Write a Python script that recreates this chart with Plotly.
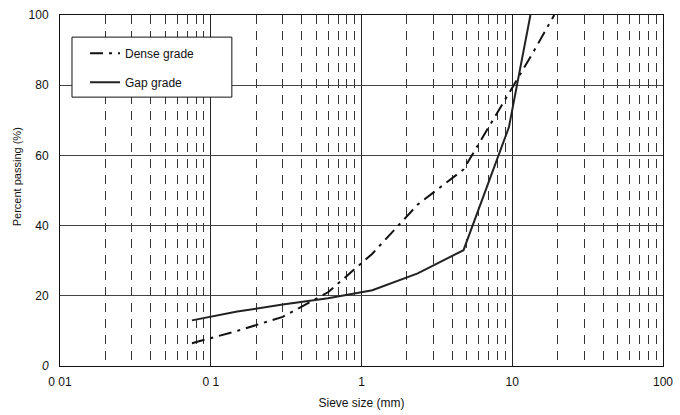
import plotly.graph_objects as go

sieve_mm = [0.075, 0.15, 0.3, 0.6, 1.18, 2.36, 4.75, 9.5, 13.2, 19]
dense_grade = [6.5, 10, 14, 21, 32, 46, 56, 77.5, 88, 100]
gap_sieve_mm = [0.075, 0.15, 0.3, 0.6, 1.18, 2.36, 4.75, 9.5, 13.2]
gap_grade = [13, 15.5, 17.5, 19.3, 21.6, 26.4, 33, 68, 100]

x_tickvals = [0.01, 0.1, 1, 10, 100]
x_ticktext = ["0 01", "0 1", "1", "10", "100"]
y_tickvals = [0, 20, 40, 60, 80, 100]
y_ticktext = ["<i>0</i>", "20", "40", "60", "80", "100"]

FONT = "Liberation Sans, Arial, sans-serif"

fig = go.Figure()
fig.add_trace(go.Scatter(x=sieve_mm, y=dense_grade, mode="lines", name="Dense grade",
                         legendgroup="a",
                         line=dict(color="#111", width=2, dash="13px,6px,3px,6px")))
fig.add_trace(go.Scatter(x=gap_sieve_mm, y=gap_grade, mode="lines", name="Gap grade",
                         legendgroup="b",
                         line=dict(color="#222", width=2)))

# legend frame
fig.add_shape(type="rect", xref="paper", yref="paper",
              x0=0.0199, x1=0.285, y0=0.766, y1=0.937,
              line=dict(color="#111", width=1), fillcolor="white", layer="above")

fig.update_layout(
    width=680, height=415,
    margin=dict(l=60, r=17, t=15, b=49),
    paper_bgcolor="white", plot_bgcolor="white",
    font=dict(family=FONT, size=12, color="#111"),
    showlegend=True,
    legend=dict(x=0.0415, y=0.932, xanchor="left", yanchor="top",
                borderwidth=0, bgcolor="rgba(0,0,0,0)",
                font=dict(size=12), itemwidth=30, tracegroupgap=10),
    xaxis=dict(type="log", range=[-2, 2], tickvals=x_tickvals, ticktext=x_ticktext,
               showgrid=True, gridcolor="#222", gridwidth=1,
               minor=dict(dtick="D1", showgrid=True, gridcolor="#333", gridwidth=1,
                          griddash="9px,7px", ticks=""),
               showline=True, linecolor="#111", linewidth=1, mirror=True,
               ticks="", zeroline=False, ticklabelstandoff=5, automargin=False,
               title=dict(text="Sieve size (mm)", standoff=10, font=dict(size=12))),
    yaxis=dict(range=[0, 100], tickvals=y_tickvals, ticktext=y_ticktext,
               showgrid=True, gridcolor="#444", gridwidth=1,
               showline=True, linecolor="#111", linewidth=1, mirror=True,
               ticks="", zeroline=False, ticklabelstandoff=8, automargin=False),
    annotations=[dict(text="Percent passing (%)", xref="paper", yref="paper",
                      x=-0.07, y=0.54, textangle=-90, showarrow=False,
                      xanchor="center", yanchor="middle", font=dict(size=11))],
)

fig.write_html("out.html")
